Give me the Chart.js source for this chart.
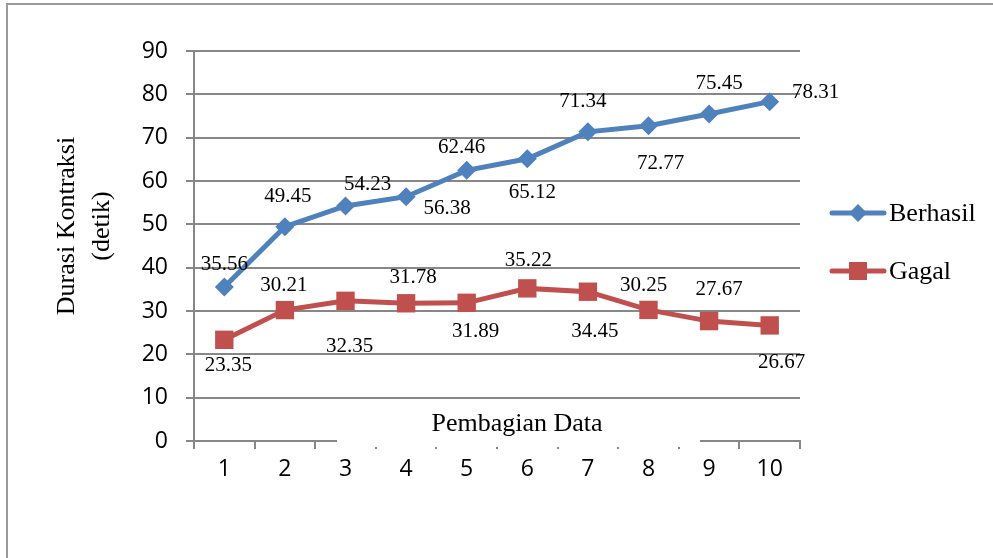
<!DOCTYPE html>
<html>
<head>
<meta charset="utf-8">
<script src="https://cdn.jsdelivr.net/npm/chart.js@4/dist/chart.umd.min.js"></script>
<style>
  html, body { margin: 0; padding: 0; background: #ffffff; }
  #wrap { position: relative; width: 993px; height: 558px; }
</style>
</head>
<body>
<div id="wrap"><canvas id="c" width="993" height="558"></canvas></div>
<script>
// ---- data ----
const categories = ['1', '2', '3', '4', '5', '6', '7', '8', '9', '10'];
const berhasil = [35.56, 49.45, 54.23, 56.38, 62.46, 65.12, 71.34, 72.77, 75.45, 78.31];
const gagal = [23.35, 30.21, 32.35, 31.78, 31.89, 35.22, 34.45, 30.25, 27.67, 26.67];
const seriesNames = ['Berhasil', 'Gagal'];
const yTitleLines = ['Durasi Kontraksi', '(detik)'];
const xTitle = 'Pembagian Data';

// label offsets (pixel styling for data label placement)
const berhasilLabelOffsets = [[0,-22],[3,-30],[22,-22],[41,12],[-5,-23],[5,34],[-5,-30],[12,38],[10,-31],[46,-9]];
const gagalLabelOffsets = [[4,26],[-1,-25],[4,46],[7,-26],[9,29],[1,-28],[7,40],[-5,-24],[10,-32],[12,37]];

const BLUE = '#4F81BD';
const RED = '#C0504D';
const GRID = '#878787';

const overlayPlugin = {
  id: 'overlay',
  beforeDraw(chart) {
    const ctx = chart.ctx;
    ctx.save();
    ctx.fillStyle = '#ffffff';
    ctx.fillRect(0, 0, chart.width, chart.height);
    ctx.strokeStyle = '#9a9a9a';
    ctx.lineWidth = 2;
    ctx.beginPath();
    ctx.moveTo(7, chart.height + 5);
    ctx.lineTo(7, 4);
    ctx.lineTo(chart.width + 5, 4);
    ctx.stroke();
    ctx.restore();
  },
  afterDraw(chart) {
    const ctx = chart.ctx;
    ctx.save();
    // x-axis title with white box
    ctx.fillStyle = '#ffffff';
    ctx.fillRect(337, 402, 363, 45);
    ctx.fillStyle = '#000000';
    ctx.font = '26px "Liberation Serif", "Times New Roman", serif';
    ctx.textAlign = 'center';
    ctx.textBaseline = 'middle';
    ctx.fillText(xTitle, 517, 424);

    // y-axis title
    ctx.save();
    ctx.translate(84, 226);
    ctx.rotate(-Math.PI / 2);
    ctx.fillText(yTitleLines[0], 0, -17);
    ctx.fillText(yTitleLines[1], 0, 18);
    ctx.restore();

    // data labels
    ctx.font = '21px "Liberation Serif", "Times New Roman", serif';
    const offs = [berhasilLabelOffsets, gagalLabelOffsets];
    chart.data.datasets.forEach((ds, di) => {
      const meta = chart.getDatasetMeta(di);
      meta.data.forEach((pt, i) => {
        const o = offs[di][i];
        ctx.fillText(ds.data[i].toFixed(2), pt.x + o[0], pt.y + o[1]);
      });
    });

    // legend
    const legendItems = [
      { name: seriesNames[0], color: BLUE, style: 'rectRot', y: 213 },
      { name: seriesNames[1], color: RED, style: 'rect', y: 271 }
    ];
    legendItems.forEach(it => {
      ctx.strokeStyle = it.color;
      ctx.lineWidth = 5;
      ctx.lineCap = 'round';
      ctx.beginPath();
      ctx.moveTo(832, it.y);
      ctx.lineTo(884, it.y);
      ctx.stroke();
      ctx.fillStyle = it.color;
      if (it.style === 'rectRot') {
        ctx.beginPath();
        ctx.moveTo(858 - 9, it.y);
        ctx.lineTo(858, it.y - 9);
        ctx.lineTo(858 + 9, it.y);
        ctx.lineTo(858, it.y + 9);
        ctx.closePath();
        ctx.fill();
      } else {
        ctx.fillRect(849, it.y - 9, 18, 18);
      }
      ctx.fillStyle = '#000000';
      ctx.font = '26px "Liberation Serif", "Times New Roman", serif';
      ctx.textAlign = 'left';
      ctx.textBaseline = 'middle';
      ctx.fillText(it.name, 889, it.y + 1);
    });
    ctx.restore();
  }
};

new Chart(document.getElementById('c'), {
  type: 'line',
  data: {
    labels: categories,
    datasets: [
      {
        label: seriesNames[0],
        data: berhasil,
        borderColor: BLUE,
        backgroundColor: BLUE,
        borderWidth: 5,
        pointStyle: 'rectRot',
        pointRadius: 9.5,
        pointBorderWidth: 0,
        pointBackgroundColor: BLUE,
        tension: 0
      },
      {
        label: seriesNames[1],
        data: gagal,
        borderColor: RED,
        backgroundColor: RED,
        borderWidth: 5,
        pointStyle: 'rect',
        pointRadius: 13,
        pointBorderWidth: 0,
        pointBackgroundColor: RED,
        tension: 0
      }
    ]
  },
  options: {
    responsive: false,
    animation: false,
    devicePixelRatio: 1,
    layout: { padding: { left: 0, right: 193, top: 51, bottom: 57 } },
    plugins: {
      legend: { display: false },
      tooltip: { enabled: false }
    },
    scales: {
      x: {
        offset: true,
        grid: {
          offset: true,
          drawOnChartArea: false,
          drawTicks: true,
          tickLength: 8,
          color: GRID,
          lineWidth: 2
        },
        border: { color: GRID, width: 2 },
        ticks: {
          color: '#000000',
          font: { family: '"Open Sans", "Liberation Sans", sans-serif', size: 23 },
          padding: 7,
          maxRotation: 0
        },
        afterFit(scale) { scale.height = 60; }
      },
      y: {
        min: 0,
        max: 90,
        ticks: {
          stepSize: 10,
          color: '#000000',
          font: { family: '"Open Sans", "Liberation Sans", sans-serif', size: 23 },
          padding: 18
        },
        grid: { color: GRID, lineWidth: 2, tickLength: 8 },
        border: { color: GRID, width: 2 },
        afterFit(scale) { scale.width = 194; }
      }
    }
  },
  plugins: [overlayPlugin]
});
</script>
</body>
</html>
